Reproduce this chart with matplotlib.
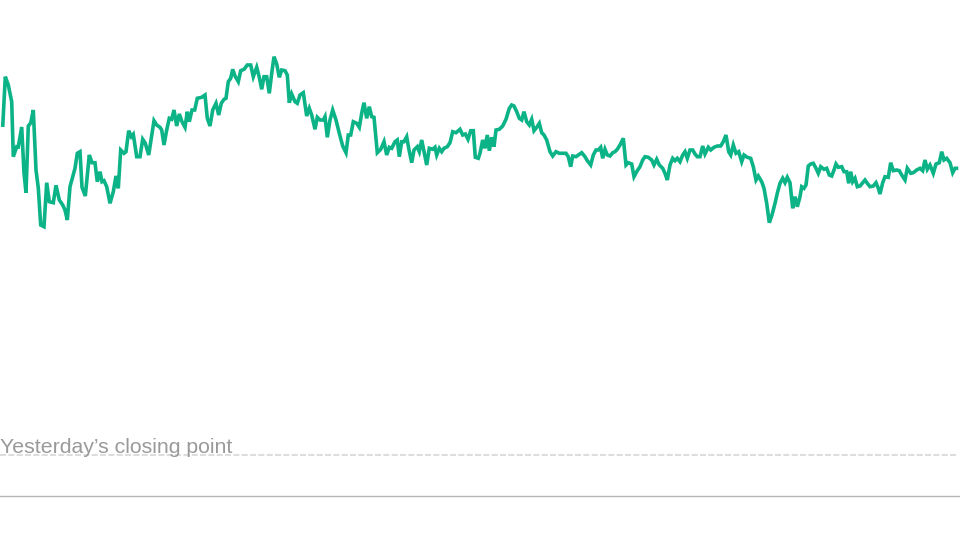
import matplotlib
matplotlib.use("Agg")
import matplotlib.pyplot as plt

# Time positions across the trading session (chart's horizontal units)
t = [2.7, 5.3, 8.3, 11.7, 13.3, 16.7, 18.3, 21.7, 24, 26, 28.3, 30.7, 33.3, 36, 38.3, 40.7, 44, 46.7, 49.3, 53.3,
     56, 59.3, 62.7, 65, 67.3, 70, 72.7, 75, 77.3, 80, 82, 85.3, 89.3, 92, 95, 97.3, 100, 102, 104, 106.7,
     110, 113.3, 116, 118.3, 120.7, 124, 126, 128.7, 131.3, 133.3, 136.7, 140, 142.7, 145.3, 148.7, 154, 156.7,
     160, 161.7, 164, 166.7, 169.3, 171.7, 174, 176.7, 179.3, 182, 185, 187.3, 189.3, 192, 194.7, 197.3, 201.7,
     205, 207.3, 210, 212.7, 216, 218.7, 221.3, 224, 226, 228.3, 230.7, 232.7, 235, 238.3, 240.7, 244, 247.3,
     250.7, 253.3, 256.7, 259.3, 261.7, 264, 266.7, 269.3, 271.7, 274, 276.7, 279.3, 281.7, 285, 287.3, 289.3,
     291.7, 295, 297.3, 300, 303.3, 306.7, 309.3, 311.7, 315, 317.3, 320,
     323.3, 325, 327.3, 330, 332.7, 336, 339.3, 342.7, 346, 348.3, 350.7, 353.3, 356.7, 359.3, 362, 364, 366.7,
     369.3, 371.7, 374, 377.3, 380.7, 384, 386.7, 389.3, 391.7, 395, 397.3, 399.3, 401.7, 404, 406.7, 408.7,
     411.7, 414, 417.3, 419.3, 421.7, 424, 426.7, 429.3, 432.7, 435, 436.7, 439.3, 441.7, 444, 447.3, 450,
     452.7, 456, 460, 462.7, 465.3, 468, 470.7, 473.3, 475.3, 478.3, 480,
     482.7, 485, 487.3, 489.3, 491.7, 494, 496, 499.3, 502.7, 506, 509.3, 511.7, 514, 516.7, 519.3, 521.7, 524,
     526.7, 529.3, 531.7, 534, 536.7, 539.3, 541.7, 544, 546.7, 550, 552.7, 556, 559.3, 562.7, 566, 568.3,
     570.7, 572.7, 576, 578.3, 581.7, 585, 587.3, 590.7, 593.3, 596, 598.3, 600.7, 602.7, 605, 607.3, 610,
     612.7, 615, 617.3, 620, 623.3, 626, 628.3, 631.7, 634, 637.3, 640,
     642.7, 645, 648.3, 651.7, 654, 656.7, 659.3, 662.7, 665, 667.3, 670, 672.7, 675, 677.3, 680, 682.7, 685,
     687.3, 690, 692.7, 695, 697.3, 700, 702.7, 705, 708.3, 710.7, 714, 717.3, 720.7, 723.3, 726, 728.7, 730.7,
     733.3, 736, 738.7, 741.7, 744, 747.3, 750.7, 753.3, 756, 758.3, 761.7, 764, 766.7, 769.3, 772, 775, 777.3,
     780, 782.7, 785, 787.3, 790, 792.7, 795, 797.3, 800,
     801.7, 804, 806, 808.3, 810.7, 813.3, 816, 818.3, 820.7, 824, 826.7, 829.3, 831.7, 834, 836, 838.3, 841.7,
     844, 846.7, 848.7, 850.7, 852.7, 855, 857.3, 860, 862.7, 865, 867.3, 870, 873.3, 876, 878.3, 880, 882.7,
     885, 888.3, 890.7, 893.3, 896.7, 899.3, 901.7, 905, 907.3, 910.7, 913.3, 916.7, 920, 922.7, 925, 927.3,
     930, 933.3, 936, 939.3, 941.7, 944, 946.7, 950, 952.7, 955, 958.3]

# Level relative to yesterday's close (chart's vertical units)
level = [327.5, 377.8, 369.5, 352.8, 297.8, 307.8, 307.5, 327.5, 281.5, 261.8, 328.5, 331.5, 344.5, 284.5, 266.5,
         229.5, 227.8, 271.8, 252.8, 251.8, 269.2, 254.5, 249.5, 244.5, 234.5, 267.8, 277.8, 286.2, 301.2, 302.8,
         267.2, 258.5, 299.5, 291.8, 291.8, 272.8, 282.8, 272.8, 273.8, 267.8, 251.2, 262.8, 278.5, 266.2, 304.5,
         301.2, 302.8, 323.8, 317.8, 320.2, 297.8, 297.8, 315.2, 311.2, 299.5, 333.8, 329.5,
         327.2, 324.5, 309.5, 324.5, 336.2, 335.2, 344.5, 328.5, 340.5, 332.8, 327.2, 342.8, 332.8, 344.5, 344.5,
         356.2, 357.2, 359.5, 336.2, 328.5, 344.5, 351.2, 339.5, 351.2, 355.2, 356.2, 372.8, 376.2, 385.2, 378.5,
         372.8, 383.8, 385.2, 389.5, 389.5, 377.8, 387.2, 377.2, 365.2, 377.8, 377.8, 361.2, 381.2, 397.8, 390.5,
         377.2, 384.5, 383.8, 379.5, 351.8, 360.5, 352.8, 351.2, 359.5, 361.8, 338.5, 346.2, 339.5, 325.2, 337.2,
         334.5,
         334.5, 337.8, 317.2, 334.5, 344.5, 334.5, 321.2, 308.5, 301.8, 319.5, 319.5, 332.8, 331.2, 327.2, 342.8,
         351.8, 336.2, 347.8, 337.8, 337.2, 301.8, 305.2, 312.8, 299.5, 307.2, 306.2, 312.8, 314.5, 297.8, 312.8,
         312.8, 317.8, 306.2, 291.8, 304.5, 307.8, 302.8, 314.5, 302.8, 289.5, 306.2, 305.2, 307.2, 299.5, 306.2,
         302.8, 306.2, 307.8, 311.8, 322.8, 321.8, 325.2, 319.5, 320.5, 315.2, 323.8, 323.8, 297.2, 296.2, 301.2,
         314.5, 306.2, 319.5, 303.8, 317.2, 307.8, 324.5, 325.2, 328.5, 335.2, 346.2, 349.5, 348.5, 342.8, 336.2,
         334.5, 342.8, 332.8, 329.5, 335.2, 323.8, 327.2, 331.2, 321.8, 319.5, 314.5, 302.8, 298.5, 302.8, 301.2,
         301.2, 301.2, 297.8, 287.8, 298.5, 297.8, 299.5, 301.8, 297.8, 293.8, 289.5, 299.5, 304.5, 304.5, 307.2,
         296.2, 305.2, 299.5, 298.5, 301.8, 302.8, 305.2, 309.5, 316.2, 289.5, 291.8, 290.5, 277.8, 283.8, 287.8,
         294.5, 297.8, 297.2, 294.5, 289.5, 295.2, 289.5, 286.2, 281.2, 274.5, 289.5, 296.2, 293.8, 296.2, 292.8,
         299.5, 302.8, 296.2, 304.5, 304.5, 300.5, 297.8, 297.8, 308.5, 300.5, 307.2, 304.5, 307.2, 308.5, 308.5,
         312.8, 319.5, 302.8, 299.5, 309.5, 301.2, 302.8, 292.8, 299.5, 297.2, 296.2, 287.8, 274.5, 278.5, 272.8,
         266.2, 251.2, 231.8, 239.5, 251.2, 261.2, 271.2, 276.2, 271.8, 277.2, 271.8, 246.2, 257.8, 247.8, 257.8,
         267.8, 266.2, 269.5, 288.5, 290.5, 291.2, 286.2, 281.2, 287.8, 285.2, 286.2, 279.5, 278.5, 284.5, 290.5,
         287.2, 287.8, 282.8, 282.8, 271.2, 282.8, 272.8, 276.2, 267.8, 268.5, 271.8, 274.5, 271.2, 267.8, 268.5,
         271.8, 266.2, 260.5, 271.8, 277.8, 277.2, 291.8, 283.8, 284.5, 283.8, 279.5, 274.5, 286.2, 281.2, 281.8,
         284.5, 286.2, 283.8, 294.5, 285.2, 289.5, 281.2, 290.5, 291.8, 302.8, 294.5, 296.2, 291.8, 281.8, 286.2,
         286.2]

prev_close = 0.0
label = "Yesterday\u2019s closing point"

fig = plt.figure(figsize=(9.6, 5.4), dpi=100)
ax = fig.add_axes([0, 44 / 540, 1, 496 / 540])
ax.set_xlim(0, 960)
ax.set_ylim(-41.5, 454.5)

ax.hlines(prev_close, 0, 958, colors="#dddddd", linewidth=1.5,
          linestyles=(0, (2.9, 1.1)), zorder=1)
ax.text(0, prev_close + 1.5, label, ha="left", va="baseline",
        fontsize=15.3, color="#9a9a9a", family=["Liberation Sans", "DejaVu Sans"], zorder=2)

ax.plot(t, level, color="#0bb386", linewidth=2.6, solid_joinstyle="miter",
        solid_capstyle="butt", zorder=3)

for s in ["top", "left", "right"]:
    ax.spines[s].set_visible(False)
ax.spines["bottom"].set_color("#b5b5b5")
ax.spines["bottom"].set_linewidth(1.0)
ax.set_xticks([])
ax.set_yticks([])
ax.patch.set_alpha(0)

fig.savefig("out.png", dpi=100, facecolor="white")
